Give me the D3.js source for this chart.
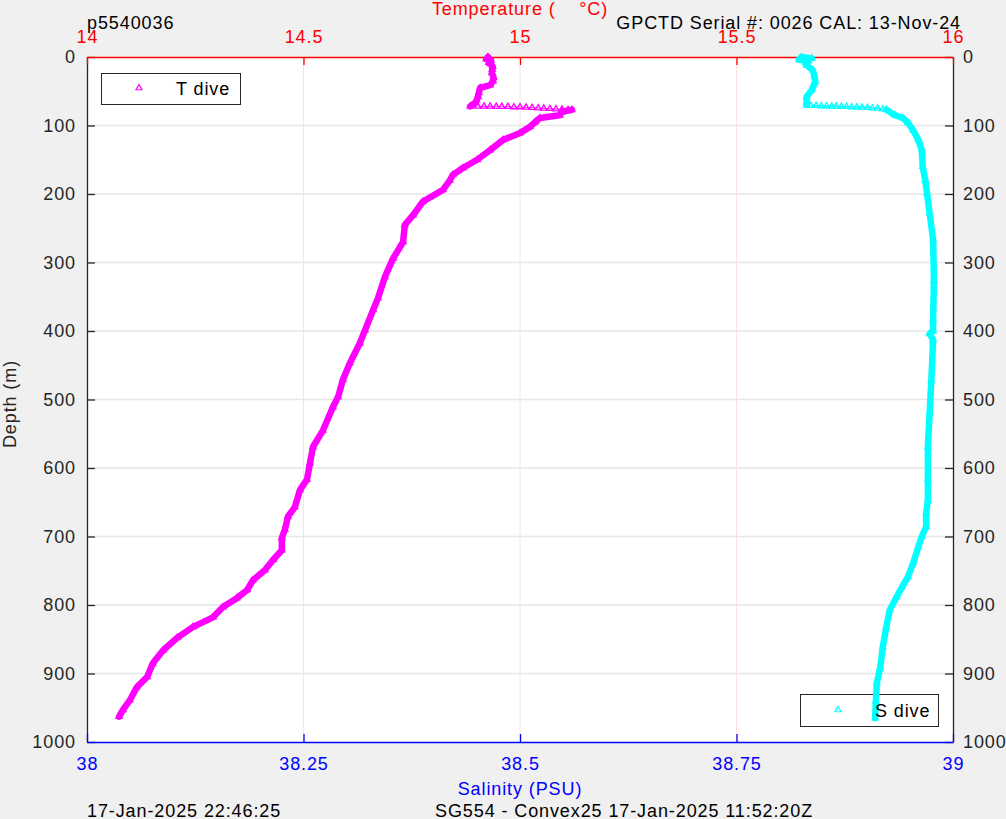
<!DOCTYPE html>
<html><head><meta charset="utf-8">
<script src="https://cdn.jsdelivr.net/npm/d3@7"></script>
<style>
html,body{margin:0;padding:0;background:#f0f0f0;}
svg{display:block;font-family:"Liberation Sans",Arial,Helvetica,sans-serif;letter-spacing:0.9px;}
</style></head><body>
<svg id="chart" width="1006" height="819"></svg>
<script>
// ---------- DATA ----------
const depthTicks = [0,100,200,300,400,500,600,700,800,900,1000];
const tempTicks = [14,14.5,15,15.5,16];
const salTicks = [38,38.25,38.5,38.75,39];

// Temperature profile (dive), upper mixed layer
const tempUpperDepth = [0,3,5,8,10,14,18,23,30,35,41,45,52,58,63,67,72];
const tempUpper      = [14.926,14.922,14.933,14.928,14.931,14.937,14.936,14.935,14.939,14.938,14.931,14.908,14.905,14.903,14.900,14.896,14.885];
// sparse samples across the thermocline jump
const tempJumpDepth = [72,72,72,72.5,72.5,72.5,73,73,73.5,74,74.5,75,75.5,76,76.5,77];
const tempJump      = [14.903,14.917,14.931,14.945,14.958,14.972,14.986,15.000,15.014,15.028,15.042,15.055,15.069,15.083,15.097,15.111];
// Temperature profile, below the jump
const tempLowerDepth = [77,80,85,89,95,102,111,121,136,150,162,172,180,194,211,231,245,270,294,321,352,369,399,418,447,471,496,511,545,569,593,617,632,657,671,690,702,720,734,749,764,778,790,803,818,832,848,866,885,905,920,939,953,963];
const tempLower      = [15.120,15.097,15.092,15.046,15.035,15.023,15.000,14.961,14.931,14.901,14.868,14.845,14.838,14.822,14.776,14.753,14.734,14.730,14.707,14.688,14.672,14.661,14.642,14.630,14.607,14.591,14.580,14.568,14.545,14.522,14.515,14.508,14.492,14.480,14.464,14.457,14.450,14.450,14.430,14.411,14.383,14.370,14.346,14.314,14.291,14.245,14.208,14.176,14.152,14.139,14.115,14.099,14.083,14.074];

// Salinity profile (dive), upper layer
const salUpperDepth = [0,2,4,6,9,12,19,28,36,48,58,66,70];
const salUpper      = [38.825,38.837,38.822,38.833,38.830,38.831,38.838,38.840,38.841,38.837,38.831,38.831,38.831];
// sparse samples across the halocline jump
const salJumpDepth = [71,71,71.5,71.5,72,72,72.5,72.5,73,73,73.5,74,74.5,75,76];
const salJump      = [38.836,38.842,38.848,38.854,38.860,38.865,38.871,38.877,38.883,38.889,38.895,38.901,38.907,38.913,38.919];
// Salinity profile, below the jump
const salLowerDepth = [77,85,89,96,107,121,136,160,180,199,228,267,326,384,400,404,413,472,520,569,617,647,666,686,700,715,739,759,774,788,807,832,861,891,914,940,965];
const salLower      = [38.923,38.933,38.942,38.948,38.954,38.960,38.964,38.965,38.968,38.970,38.973,38.977,38.978,38.977,38.977,38.973,38.977,38.975,38.973,38.971,38.971,38.971,38.969,38.969,38.964,38.960,38.954,38.948,38.941,38.935,38.927,38.923,38.919,38.916,38.912,38.911,38.910];

// ---------- CHART ----------
const svg = d3.select("#chart");
const L=87, R=953, T=57, B=742;
const xT = d3.scaleLinear().domain([14,16]).range([L,R]);
const xS = d3.scaleLinear().domain([38,39]).range([L,R]);
const y  = d3.scaleLinear().domain([0,1000]).range([T,B]);
const dark = "#262626", red = "#ff0000", blue = "#0000ff";
const magenta = "#ff00ff", cyan = "#00ffff";
const FS = 18;

svg.append("rect").attr("x",L).attr("y",T).attr("width",R-L).attr("height",B-T).attr("fill","#fff");

// grid
svg.append("g").selectAll("line").data(depthTicks.filter(d=>d>0&&d<1000)).join("line")
  .attr("x1",L).attr("x2",R).attr("y1",d=>y(d)).attr("y2",d=>y(d))
  .attr("stroke","#e6e6e6").attr("stroke-width",1.3);
svg.append("g").selectAll("line").data(tempTicks.filter(d=>d>14&&d<16)).join("line")
  .attr("x1",d=>xT(d)).attr("x2",d=>xT(d)).attr("y1",T).attr("y2",B)
  .attr("stroke","#ffdede").attr("stroke-width",1);

function styleAxis(g, color){
  g.attr("font-family",null).attr("font-size",FS);
  g.select(".domain").attr("stroke",color).attr("stroke-width",1.3);
  g.selectAll(".tick line").attr("stroke",color).attr("stroke-width",1.3);
  g.selectAll(".tick text").attr("fill",color);
}
const fmt = d3.format("~g");
styleAxis(svg.append("g").attr("transform",`translate(${L},0)`)
  .call(d3.axisLeft(y).tickValues(depthTicks).tickFormat(fmt).tickSize(-8).tickSizeOuter(0).tickPadding(11)), dark);
styleAxis(svg.append("g").attr("transform",`translate(${R},0)`)
  .call(d3.axisRight(y).tickValues(depthTicks).tickFormat(fmt).tickSize(-8).tickSizeOuter(0).tickPadding(10)), dark);
styleAxis(svg.append("g").attr("transform",`translate(0,${B})`)
  .call(d3.axisBottom(xS).tickValues(salTicks).tickFormat(fmt).tickSize(-8).tickSizeOuter(0).tickPadding(15)), blue);
styleAxis(svg.append("g").attr("transform",`translate(0,${T})`)
  .call(d3.axisTop(xT).tickValues(tempTicks).tickFormat(fmt).tickSize(-8).tickSizeOuter(0).tickPadding(14.5)), red);

// helpers
const tri = d3.symbol().type(d3.symbolTriangle).size(16);
function zip(ds, vs){ return ds.map((d,i)=>({d, v:vs[i]})); }
function drawTrace(data, xs, color){
  const line = d3.line().x(p=>xs(p.v)).y(p=>y(p.d));
  svg.append("path").datum(data).attr("d",line).attr("fill","none")
    .attr("stroke",color).attr("stroke-width",6.5).attr("stroke-linejoin","round").attr("stroke-linecap","round");
  drawMarkers(data, xs, color);
}
function drawMarkers(data, xs, color){
  svg.append("g").selectAll("path").data(data).join("path")
    .attr("d",tri).attr("transform",p=>`translate(${xs(p.v)},${y(p.d)})`)
    .attr("fill","none").attr("stroke",color).attr("stroke-width",1.3);
}

// temperature
drawTrace(zip(tempUpperDepth,tempUpper), xT, magenta);
drawMarkers(zip(tempJumpDepth,tempJump), xT, magenta);
svg.append("path").datum(zip(tempJumpDepth,tempJump))
  .attr("d",d3.line().x(p=>xT(p.v)).y(p=>y(p.d))).attr("fill","none").attr("stroke",magenta).attr("stroke-width",0.8);
drawTrace(zip(tempLowerDepth,tempLower), xT, magenta);

// T legend
svg.append("rect").attr("x",101.5).attr("y",73.5).attr("width",139).attr("height",31)
  .attr("fill","#fff").attr("stroke",dark).attr("stroke-width",1);
svg.append("path").attr("d",tri).attr("transform","translate(139,88)").attr("fill","none").attr("stroke",magenta).attr("stroke-width",1.2);
svg.append("text").attr("x",176).attr("y",95).attr("font-size",FS).attr("fill","#000").text("T dive");

// S legend box (under S data)
svg.append("rect").attr("x",800.5).attr("y",694.5).attr("width",138).attr("height",32)
  .attr("fill","#fff").attr("stroke",dark).attr("stroke-width",1);

// salinity
drawTrace(zip(salUpperDepth,salUpper), xS, cyan);
drawMarkers(zip(salJumpDepth,salJump), xS, cyan);
svg.append("path").datum(zip(salJumpDepth,salJump))
  .attr("d",d3.line().x(p=>xS(p.v)).y(p=>y(p.d))).attr("fill","none").attr("stroke",cyan).attr("stroke-width",1.5);
drawTrace(zip(salLowerDepth,salLower), xS, cyan);

svg.append("path").attr("d",tri).attr("transform","translate(838,710)").attr("fill","none").attr("stroke",cyan).attr("stroke-width",1.2);
svg.append("text").attr("x",875).attr("y",717).attr("font-size",FS).attr("fill","#000").text("S dive");

// titles / labels
svg.append("text").attr("x",(L+R)/2).attr("y",15).attr("text-anchor","middle").attr("font-size",FS)
  .attr("fill",red).attr("xml:space","preserve").style("white-space","pre").text("Temperature (    °C)");
svg.append("text").attr("x",87).attr("y",29).attr("font-size",FS).attr("fill","#000").text("p5540036");
svg.append("text").attr("x",961).attr("y",28.5).attr("text-anchor","end").attr("font-size",FS).attr("fill","#000").text("GPCTD Serial #: 0026 CAL: 13-Nov-24");
svg.append("text").attr("x",(L+R)/2).attr("y",795).attr("text-anchor","middle").attr("font-size",FS).attr("fill",blue).text("Salinity (PSU)");
svg.append("text").attr("x",87).attr("y",816.5).attr("font-size",FS).attr("fill","#000").text("17-Jan-2025 22:46:25");
svg.append("text").attr("x",435).attr("y",816.5).attr("font-size",FS).attr("fill","#000").text("SG554 - Convex25 17-Jan-2025 11:52:20Z");
svg.append("text").attr("transform","translate(16,404) rotate(-90)").attr("text-anchor","middle").attr("font-size",FS).attr("fill",dark).text("Depth (m)");
</script>
</body></html>
